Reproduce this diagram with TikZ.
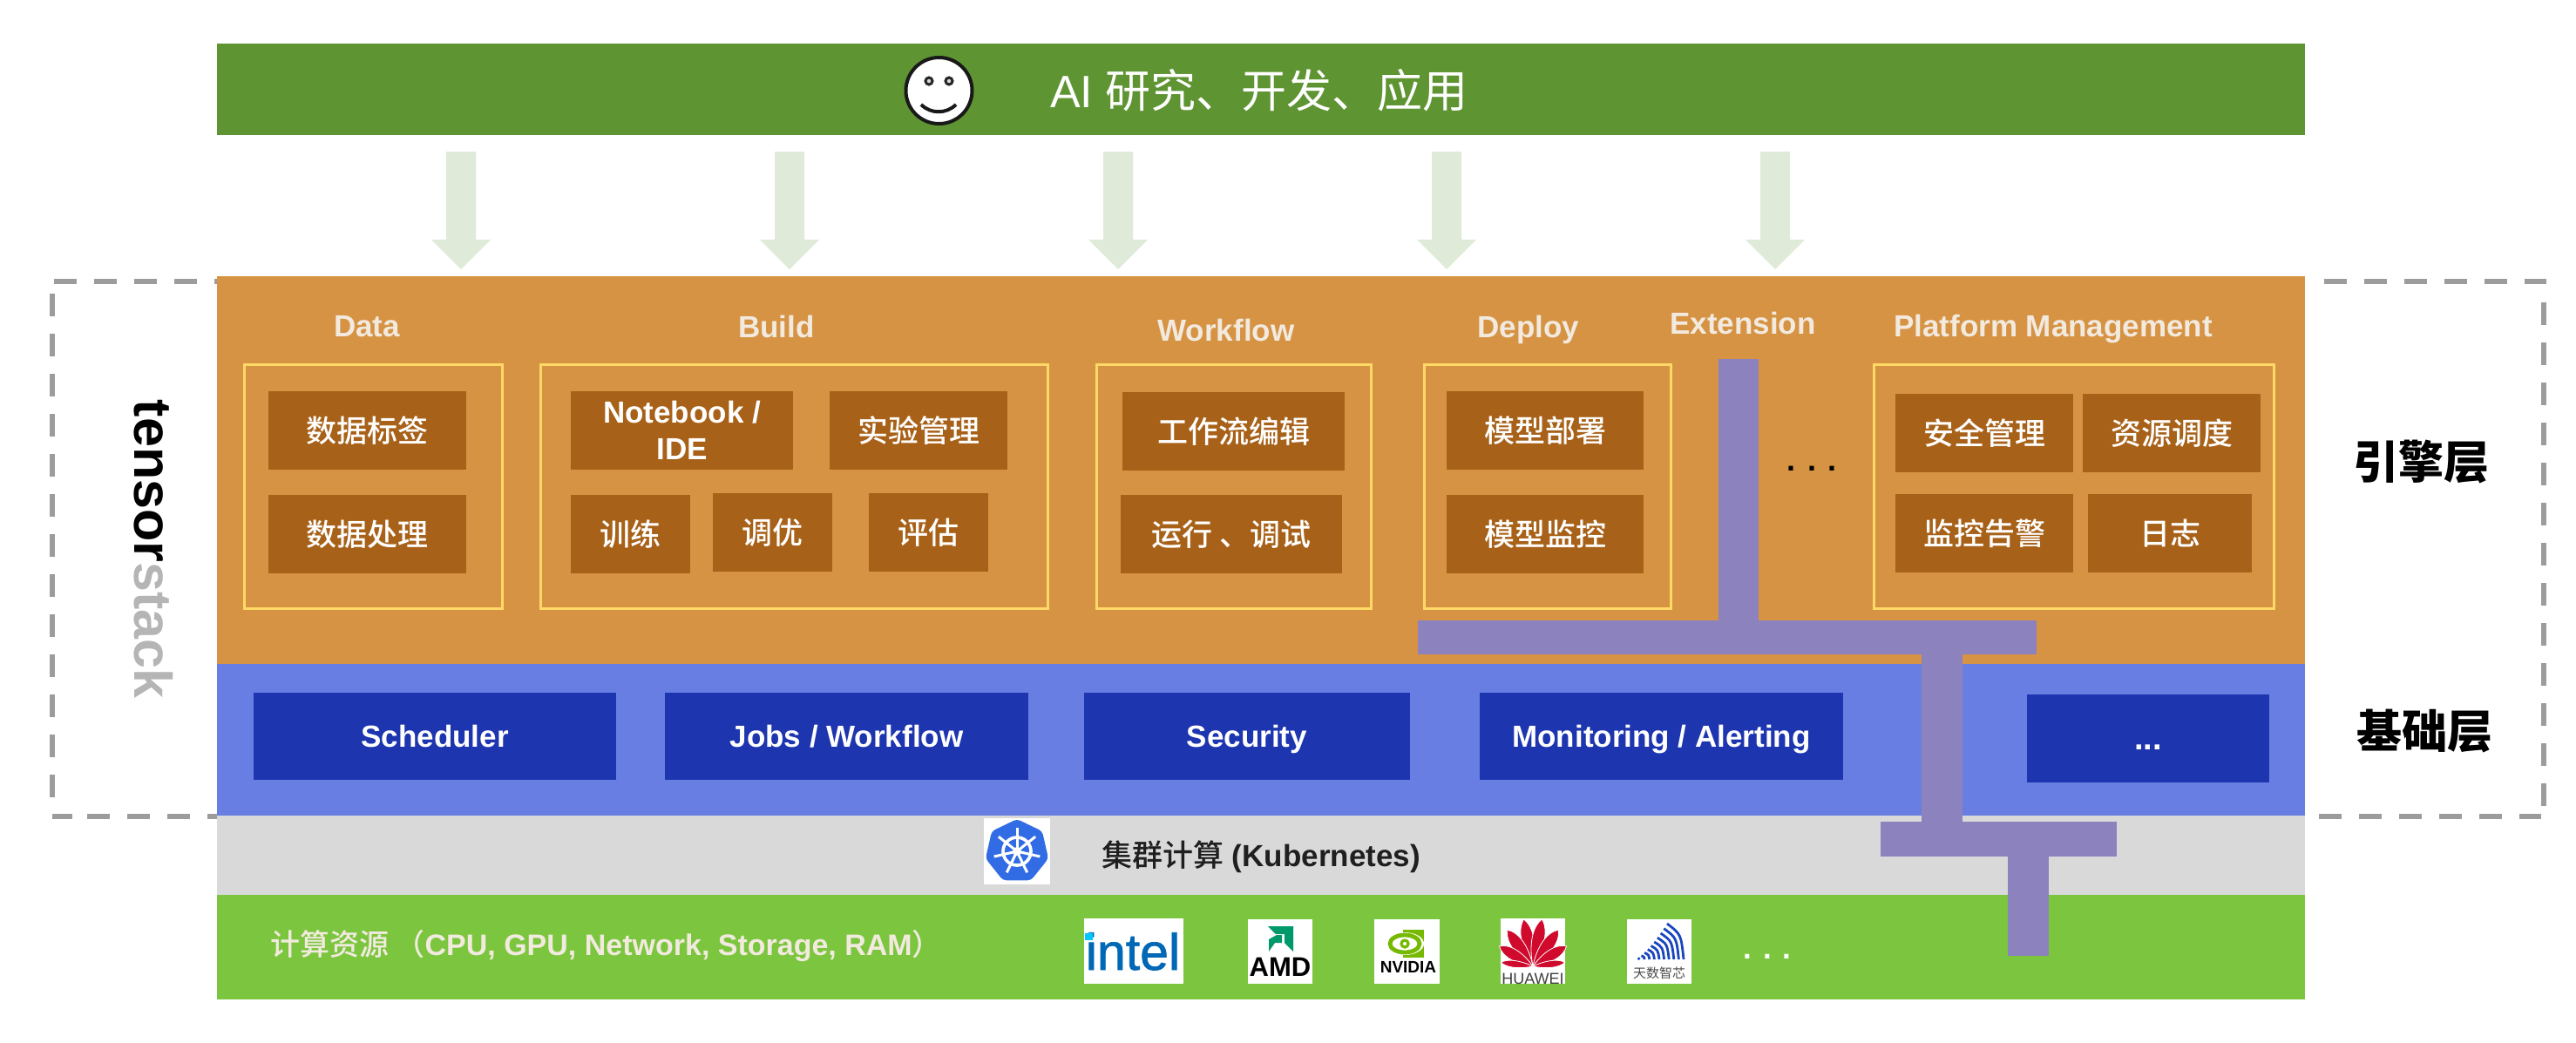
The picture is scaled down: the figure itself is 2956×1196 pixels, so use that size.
\documentclass[tikz,border=0pt]{standalone}
\usepackage{fontspec}
\setmainfont{Liberation Sans}
\newfontfamily\cjk{Noto Sans CJK SC}
\newfontfamily\cjkm[BoldFont={Noto Sans CJK SC Medium}]{Noto Sans CJK SC Medium}
\newfontfamily\intelf[FakeBold=1.2]{Liberation Sans}
\definecolor{topgreen}{HTML}{5F9433}
\definecolor{arrowgreen}{HTML}{DFEAD8}
\definecolor{band}{HTML}{D69344}
\definecolor{brown}{HTML}{A86118}
\definecolor{frameyellow}{HTML}{FFD966}
\definecolor{lightblue}{HTML}{687EE3}
\definecolor{darkblue}{HTML}{1D35AF}
\definecolor{lightgray}{HTML}{D9D9D9}
\definecolor{botgreen}{HTML}{7BC63E}
\definecolor{purple}{HTML}{8B82BE}
\definecolor{dashgray}{HTML}{9C9C9C}
\definecolor{headtext}{HTML}{F2EADF}
\definecolor{kblue}{HTML}{326CE5}
\definecolor{intelblue}{HTML}{0068B5}
\definecolor{intelcyan}{HTML}{00C7FD}
\definecolor{amdgreen}{HTML}{00996B}
\definecolor{nvgreen}{HTML}{76B900}
\definecolor{hwred}{HTML}{CF0A2C}
\definecolor{tsblue}{HTML}{1946BE}
\definecolor{stackgray}{HTML}{B5B5B5}
\tikzset{
  base/.style={inner sep=0pt,outer sep=0pt,align=center,font=\fontsize{17.5pt}{21pt}\selectfont\bfseries},
  bandbox/.style={base,fill=#1},
  inbox/.style={base,fill=brown,text=white},
  svcbox/.style={base,fill=darkblue,text=white,text height=12.5pt,text depth=0.5pt},
  groupbox/.style={base,draw=frameyellow,line width=1.5pt},
  headlabel/.style={base,text=headtext},
  logobox/.style={base,fill=white},
  purplebar/.style={base,fill=purple},
  dashline/.style={draw=dashgray,line width=3pt,dash pattern=on 13pt off 10pt},
}
\newcommand{\bx}[7]{\node[#6,minimum width={(#4-#2)*0.5pt},minimum height={(#5-#3)*0.5pt}] (#1) at ({(#2+#4)/2},{(#3+#5)/2}) {#7};}
\begin{document}
\begin{tikzpicture}[x=0.5pt,y=-0.5pt]
\useasboundingbox (0,0) rectangle (2956,1196);
% dashed frame
\draw[dashline] (62,323) -- (249,323);
\draw[dashline] (2667,323) -- (2922,323);
\draw[dashline] (60,337) -- (60,925);
\draw[dashline] (2919,347) -- (2919,925);
\draw[dashline] (60,937) -- (83,937);
\draw[dashline] (100,937) -- (249,937);
\draw[dashline] (2661,937) -- (2916,937);
% bands
\bx{ai}{249}{50}{2645}{155}{bandbox=topgreen}{}
\bx{engine}{249}{317}{2645}{762}{bandbox=band}{}
\bx{found}{249}{762}{2645}{936}{bandbox=lightblue}{}
\bx{k8s}{249}{936}{2645}{1027}{bandbox=lightgray}{}
\bx{res}{249}{1027}{2645}{1147}{bandbox=botgreen}{}
% top bar content
\node[base,text=white,font=\fontsize{26pt}{30pt}\selectfont\mdseries] (aitext) at (1445,104) {AI {\cjk 研究、开发、应用}};
\node[circle,draw=black!90,fill=white,line width=2pt,minimum size=38pt,inner sep=0pt] (face) at (1077.5,104) {};
\draw[black!85,line width=1.5pt,fill=lightgray] (1066,93) circle[radius=4];
\draw[black!85,line width=1.5pt,fill=lightgray] (1089,93) circle[radius=4];
\draw[black!90,line width=2pt] (1057,120) .. controls (1068,131) and (1086,131) .. (1097,120);
% block arrows
\foreach \c in {529,906,1283,1660,2037}{
  \fill[arrowgreen] (\c-17,174) -- (\c+17,174) -- (\c+17,275) -- (\c+34,275) -- (\c,309) -- (\c-34,275) -- (\c-17,275) -- cycle;
}
% side labels
\node[base,rotate=-90,font=\fontsize{30.5pt}{34pt}\selectfont\bfseries] (brand) at (176,630) {tensor\textcolor{stackgray}{stack}};
\node[base,font=\fontsize{26pt}{30pt}\selectfont\cjk\bfseries] (l1) at (2778,530) {引擎层};
\node[base,font=\fontsize{26pt}{30pt}\selectfont\cjk\bfseries] (l2) at (2782,839) {基础层};
% headings
\node[headlabel] (h1) at (421,375) {Data};
\node[headlabel] (h2) at (891,375) {Build};
\node[headlabel] (h3) at (1407,379) {Workflow};
\node[headlabel] (h4) at (1754,378) {Deploy};
\node[headlabel] (h5) at (2000,371) {Extension};
\node[headlabel] (h6) at (2356,378) {Platform Management};
% group frames
\bx{g1}{280}{418}{576}{698}{groupbox}{}
\bx{g2}{620}{418}{1202}{698}{groupbox}{}
\bx{g3}{1258}{418}{1573}{698}{groupbox}{}
\bx{g4}{1634}{418}{1917}{698}{groupbox}{}
\bx{g6}{2150}{418}{2609}{698}{groupbox}{}
% inner boxes
\bx{a1}{308}{449}{535}{539}{inbox}{\cjkm 数据标签}
\bx{a2}{308}{568}{535}{658}{inbox}{\cjkm 数据处理}
\bx{b1}{655}{449}{910}{539}{inbox}{Notebook /\\IDE}
\bx{b2}{952}{449}{1156}{539}{inbox}{\cjkm 实验管理}
\bx{b3}{655}{568}{792}{658}{inbox}{\cjkm 训练}
\bx{b4}{818}{566}{955}{656}{inbox}{\cjkm 调优}
\bx{b5}{997}{566}{1134}{656}{inbox}{\cjkm 评估}
\bx{c1}{1288}{450}{1543}{540}{inbox}{\cjkm 工作流编辑}
\bx{c2}{1286}{568}{1540}{658}{inbox}{\cjkm 运行 、调试}
\bx{d1}{1660}{449}{1886}{539}{inbox}{\cjkm 模型部署}
\bx{d2}{1660}{568}{1886}{658}{inbox}{\cjkm 模型监控}
\bx{p1}{2175}{452}{2379}{542}{inbox}{\cjkm 安全管理}
\bx{p2}{2390}{452}{2594}{542}{inbox}{\cjkm 资源调度}
\bx{p3}{2175}{567}{2379}{657}{inbox}{\cjkm 监控告警}
\bx{p4}{2396}{567}{2584}{657}{inbox}{\cjkm 日志}
\node[base,font=\fontsize{18pt}{22pt}\selectfont\bfseries] (edots) at (2079,538) {. . .};
% foundation services
\bx{s1}{291}{795}{707}{895}{svcbox}{Scheduler}
\bx{s2}{763}{795}{1180}{895}{svcbox}{Jobs / Workflow}
\bx{s3}{1244}{795}{1618}{895}{svcbox}{Security}
\bx{s4}{1698}{795}{2115}{895}{svcbox}{Monitoring / Alerting}
\bx{s5}{2326}{797}{2604}{898}{svcbox}{}
\node[base,text=white,font=\fontsize{19pt}{23pt}\selectfont\bfseries] (sdots) at (2465,858) {...};
% purple extension bars
\bx{e1}{1972}{412}{2018}{713}{purplebar}{}
\bx{e2}{1627}{712}{2337}{751}{purplebar}{}
\bx{e3}{2205}{750}{2252}{944}{purplebar}{}
\bx{e4}{2158}{943}{2429}{983}{purplebar}{}
\bx{e5}{2304}{982}{2351}{1097}{purplebar}{}
% cluster row
\bx{klogo}{1129}{939}{1205}{1015}{logobox}{}
\begin{scope}[shift={(1167,977)},x=0.5pt,y=0.5pt]
  \fill[kblue,rounded corners=2pt]
    (90:37) -- (141.43:37) -- (192.86:37) -- (244.29:37) -- (295.71:37) -- (347.14:37) -- (38.57:37) -- cycle;
  \draw[white,line width=1.8pt] (0,0) circle[radius=16];
  \fill[white] (0,0) circle[radius=5];
  \foreach \a in {90,141.43,192.86,244.29,295.71,347.14,38.57}{
    \draw[white,line width=1.5pt] (0,0) -- (\a:27);
  }
\end{scope}
\node[base,text=black!88,font=\fontsize{17.5pt}{21pt}\selectfont\bfseries] (ktext) at (1447,983) {{\cjkm 集群计算} (Kubernetes)};
% resources row
\node[base,text=headtext,anchor=west,font=\fontsize{17pt}{21pt}\selectfont\bfseries] (rtext) at (310,1085) {{\cjkm 计算资源 （}CPU, GPU, Network, Storage, RAM{\cjkm ）}};
\bx{lg1}{1244}{1054}{1358}{1129}{logobox}{}
\node[anchor=base,inner sep=0pt,text=intelblue,font=\fontsize{29.5pt}{32pt}\selectfont\intelf] (intel) at (1300,1113) {intel};
\fill[intelcyan] (1245,1071) rectangle (1254,1079);
\bx{lg2}{1432}{1055}{1506}{1129}{logobox}{}
\fill[amdgreen] (1455,1063) -- (1484,1063) -- (1484,1092) -- (1474,1082) -- (1474,1072) -- (1464,1072) -- cycle;
\fill[amdgreen] (1456,1092) -- (1456,1078) -- (1465,1073) -- (1471,1073) -- (1471,1082) -- (1463,1082) -- cycle;
\node[base,font=\fontsize{15.5pt}{18pt}\selectfont\bfseries] (amd) at (1469,1110) {AMD};
\bx{lg3}{1577}{1055}{1652}{1129}{logobox}{}
\fill[nvgreen] (1610,1067) rectangle (1634,1099);
\fill[white] (1612,1083) ellipse[x radius=22,y radius=13];
\draw[nvgreen,line width=2.4pt] (1612,1083) ellipse[x radius=17,y radius=10];
\draw[nvgreen,line width=1.6pt] (1612,1083) circle[radius=4];
\node[base,font=\fontsize{9.5pt}{12pt}\selectfont\bfseries] (nv) at (1616,1110) {NVIDIA};
\bx{lg4}{1722}{1054}{1796}{1129}{logobox}{}
\begin{scope}[shift={(1759,1109)},x=0.5pt,y=0.5pt]
  \foreach \a/\l/\w in {11/55/9,-11/55/9,35/51/9,-35/51/9,59/45/8,-59/45/8,83/37/5,-83/37/5}{
    \fill[hwred,draw=white,line width=0.4pt,rotate=\a] (0,0) .. controls (-\w,\l*0.4) and (-\w*1.1,\l*0.8) .. (0,\l) .. controls (\w*1.1,\l*0.8) and (\w,\l*0.4) .. (0,0) -- cycle;
  }
\end{scope}
\node[base,text=black!75,font=\fontsize{9pt}{10pt}\selectfont\mdseries] (hw) at (1759,1123) {HUAWEI};
\bx{lg5}{1867}{1055}{1941}{1129}{logobox}{}
\foreach \i in {0,...,10}{
  \pgfmathsetmacro{\t}{\i/10}
  \pgfmathsetmacro{\xt}{1876+37*\t}
  \pgfmathsetmacro{\yt}{1101-41*pow(\t,1.4)}
  \pgfmathsetmacro{\xb}{\xt+19*\t}
  \pgfmathsetmacro{\mx}{\xt+16*\t}
  \pgfmathsetmacro{\my}{\yt+(1101-\yt)*0.3}
  \draw[tsblue,line width=1.4pt] (\xt,\yt) .. controls (\mx,\my) .. (\xb,1101);
}
\node[base,text=black!70,font=\fontsize{7.5pt}{9pt}\selectfont\cjk] (ts) at (1904,1117) {天数智芯};
\node[base,text=white,font=\fontsize{17.5pt}{22pt}\selectfont\bfseries] (rdots) at (2028,1098) {. . .};
\end{tikzpicture}
\end{document}
